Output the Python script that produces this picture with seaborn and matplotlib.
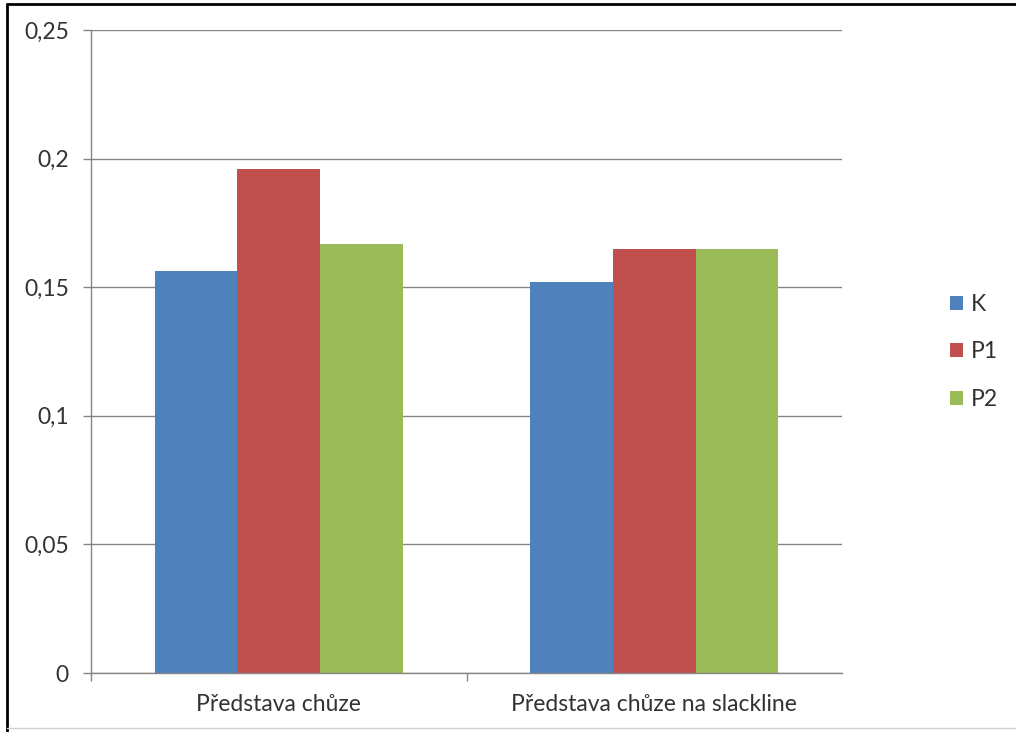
import matplotlib
matplotlib.use("Agg")
import matplotlib.pyplot as plt
from matplotlib.lines import Line2D
from matplotlib.patches import Patch
import seaborn as sns
import pandas as pd

categories = ["Představa chůze", "Představa chůze na slackline"]
series_names = ["K", "P1", "P2"]
values_K = [0.1564, 0.1521]
values_P1 = [0.1958, 0.1647]
values_P2 = [0.1668, 0.1647]
ytick_values = [0, 0.05, 0.1, 0.15, 0.2, 0.25]
ytick_labels = ["0", "0,05", "0,1", "0,15", "0,2", "0,25"]
colors = ["#4F81BD", "#C0504D", "#9BBB59"]

rows = []
for name, vals in zip(series_names, [values_K, values_P1, values_P2]):
    for cat, v in zip(categories, vals):
        rows.append({"cat": cat, "series": name, "value": v})
df = pd.DataFrame(rows)

sns.set_theme(style="white")
plt.rcParams["font.family"] = ["Lato", "DejaVu Sans"]

fig = plt.figure(figsize=(10.16, 7.32), dpi=100)
ax = fig.add_axes([91 / 1016, 1 - 673 / 732, (842 - 91) / 1016, (673 - 30) / 732])

sns.barplot(data=df, x="cat", y="value", hue="series", order=categories,
            hue_order=series_names, palette=colors, width=0.66, gap=0,
            linewidth=0, saturation=1, ax=ax, legend=False)

txt_color = "#333333"
fs = 16.5
ax.set_xlim(-0.5, 1.5)
ax.set_ylim(0, 0.25)
ax.set_yticks(ytick_values)
ax.set_yticklabels(ytick_labels, fontsize=fs, color=txt_color)
ax.set_xticks([0, 1])
ax.set_xticklabels(categories, fontsize=fs, color=txt_color)
ax.set_xticks([-0.5, 0.5], minor=True)
ax.tick_params(axis="x", which="major", length=0, pad=15)
ax.tick_params(axis="x", which="minor", length=6, width=1, color="#868686", direction="out", bottom=True)
ax.tick_params(axis="y", length=6, width=1, color="#868686", direction="out", left=True, pad=10)
ax.set_xlabel("")
ax.set_ylabel("")
ax.yaxis.grid(True, color="#868686", linewidth=1)
ax.set_axisbelow(True)
for s in ["top", "right"]:
    ax.spines[s].set_visible(False)
for s in ["left", "bottom"]:
    ax.spines[s].set_color("#868686")
    ax.spines[s].set_linewidth(1)

handles = [Patch(facecolor=c, edgecolor="none") for c in colors]
leg = fig.legend(handles, series_names, loc="center left",
                 bbox_to_anchor=(950 / 1016, 1 - 352 / 732), frameon=False,
                 fontsize=fs, handlelength=0.55, handleheight=0.55,
                 handletextpad=0.35, labelspacing=1.15, borderpad=0, borderaxespad=0)
for t in leg.get_texts():
    t.set_color(txt_color)

fig.add_artist(Line2D([7 / 1016, 7 / 1016], [0, 1 - 4 / 732], color="black", linewidth=2))
fig.add_artist(Line2D([7 / 1016, 1], [1 - 4 / 732, 1 - 4 / 732], color="black", linewidth=2))
fig.add_artist(Line2D([7 / 1016, 1], [1 - 728 / 732, 1 - 728 / 732], color="#d0d0d0", linewidth=1))

fig.savefig("out.png", dpi=100)
